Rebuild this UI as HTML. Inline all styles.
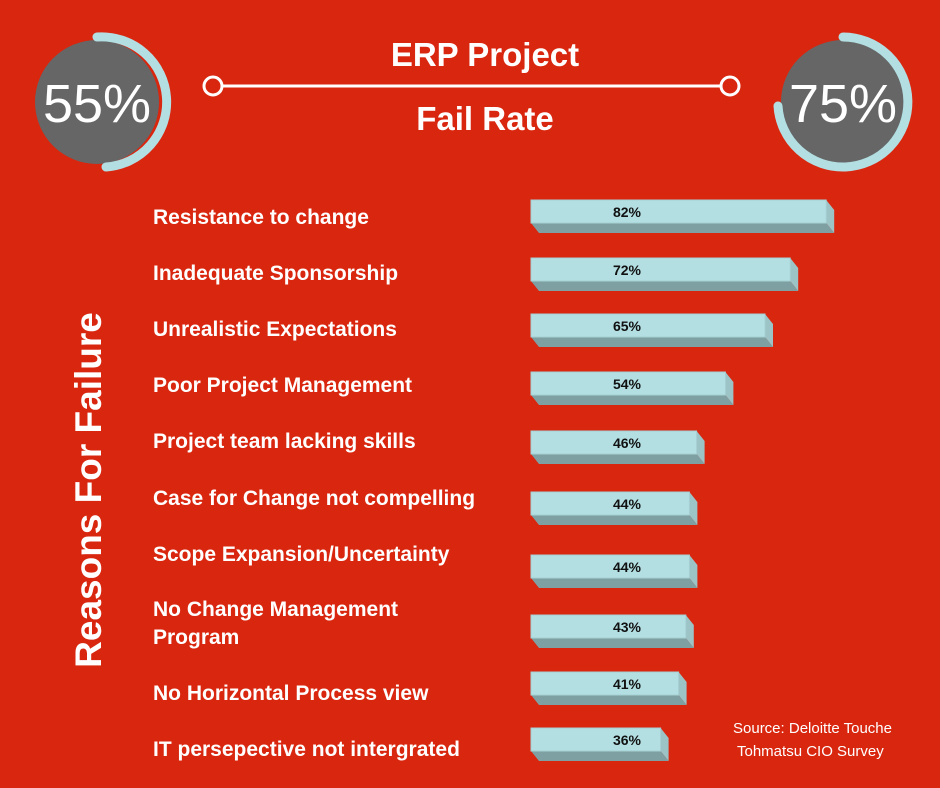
<!DOCTYPE html>
<html><head><meta charset="utf-8"><style>
body{margin:0;width:940px;height:788px;background:#d9260f;overflow:hidden;font-family:"Liberation Sans",sans-serif}
svg{display:block}
</style></head><body>
<svg width="940" height="788">
<g>
<circle cx="97" cy="102" r="62" fill="#666"/>
<path d="M97,37 A65,65 0 0 1 106,167" fill="none" stroke="#b3dfe3" stroke-width="9" stroke-linecap="round"/>
<text x="97" y="122" text-anchor="middle" font-size="54" fill="#fff">55%</text>
</g>
<g>
<circle cx="843" cy="102" r="62" fill="#666"/>
<path d="M843,37 A65,65 0 1 1 778,106" fill="none" stroke="#b3dfe3" stroke-width="9" stroke-linecap="round"/>
<text x="843" y="122" text-anchor="middle" font-size="54" fill="#fff">75%</text>
</g>
<text x="485" y="66" text-anchor="middle" font-size="33" font-weight="bold" fill="#fff">ERP Project</text>
<text x="485" y="130" text-anchor="middle" font-size="33" font-weight="bold" fill="#fff">Fail Rate</text>
<line x1="222" y1="86" x2="720" y2="86" stroke="#fff" stroke-width="3"/>
<circle cx="213" cy="86" r="9" fill="none" stroke="#fff" stroke-width="3"/>
<circle cx="730" cy="86" r="9" fill="none" stroke="#fff" stroke-width="3"/>
<text transform="translate(101,490) rotate(-90)" text-anchor="middle" font-size="37" font-weight="bold" fill="#fff">Reasons For Failure</text>
<g id="bars"></g>
<text x="733" y="733" font-size="15" fill="#fff">Source: Deloitte Touche</text>
<text x="737" y="756" font-size="15" fill="#fff">Tohmatsu CIO Survey</text>
</svg>
<script>
const categories=["Resistance to change","Inadequate Sponsorship","Unrealistic Expectations","Poor Project Management","Project team lacking skills","Case for Change not compelling","Scope Expansion/Uncertainty","No Change Management|Program","No Horizontal Process view","IT persepective not intergrated"];
const values=[82,72,65,54,46,44,44,43,41,36];
const rowTops=[200,258,314,372,431,492,555,615,672,728];
const labelYs=[224,280,336,392,448,505,561,616,700,756];
const NS="http://www.w3.org/2000/svg";
const g=document.getElementById('bars');
function x(v){return v*3.6;}
function mk(t,a){const e=document.createElementNS(NS,t);for(const k in a)e.setAttribute(k,a[k]);return e;}
categories.forEach((c,i)=>{
  const lines=c.split('|');
  lines.forEach((l,j)=>{
    const t=mk('text',{x:153,y:labelYs[i]+j*28,'font-size':21,'font-weight':'bold',fill:'#fff'});
    
    
    t.textContent=l;g.appendChild(t);
  });
  const x0=531,y0=rowTops[i],w=x(values[i]);
  const bar=mk('g',{});
  
  
  bar.appendChild(mk('polygon',{points:`${x0},${y0+23} ${x0+w},${y0+23} ${x0+w+8},${y0+33} ${x0+8},${y0+33}`,fill:'#7fa0a2'}));
  bar.appendChild(mk('polygon',{points:`${x0+w},${y0} ${x0+w+8},${y0+10} ${x0+w+8},${y0+33} ${x0+w},${y0+23}`,fill:'#9cc3c6'}));
  bar.appendChild(mk('rect',{x:x0,y:y0,width:w,height:23,fill:'#b3dfe3',stroke:'#a5cfd3','stroke-width':1}));
  const t=mk('text',{x:x0+96,y:y0+17,'font-size':14,'font-weight':'bold',fill:'#111','text-anchor':'middle'});
  
  
  t.textContent=values[i]+'%';bar.appendChild(t);
  g.appendChild(bar);
});
</script>
</body></html>
